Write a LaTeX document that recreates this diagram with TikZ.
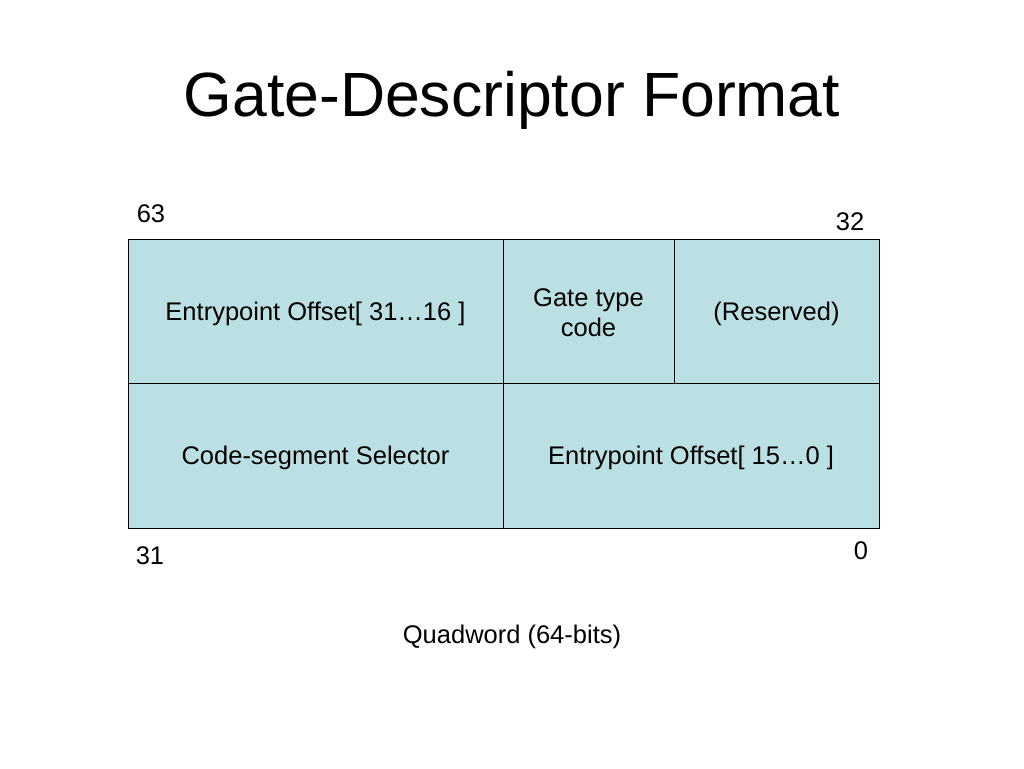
\documentclass[tikz,border=0pt]{standalone}
\usepackage{fontspec}
\setmainfont{Liberation Sans}
\newlength{\du}
\setlength{\du}{1pt}
\tikzset{celltext/.style={font=\fontsize{25.5}{30}\selectfont}}
\begin{document}
\begin{tikzpicture}
\pgftransformxscale{1.000000}
\pgftransformyscale{-1.000000}
\useasboundingbox (0\du,0\du) rectangle (1024\du,768\du);
\definecolor{dialinecolor}{rgb}{0.733000, 0.878000, 0.890000}
\pgfsetfillcolor{dialinecolor}
\definecolor{dialinecolor}{rgb}{0.000000, 0.000000, 0.000000}
\pgfsetstrokecolor{dialinecolor}
\pgfsetlinewidth{1.000000\du}
\pgfsetdash{}{0pt}
% title
\node[font=\fontsize{62.5}{70}\selectfont] (title) at (512.000000\du,100.000000\du){Gate-Descriptor Format};
% upper doubleword
\filldraw (128.000000\du,239.000000\du)--(128.000000\du,383.000000\du)--(503.000000\du,383.000000\du)--(503.000000\du,239.000000\du)--cycle;
\node[celltext] (offhigh) at (315.500000\du,313.500000\du){Entrypoint Offset[ 31…16 ]};
\filldraw (503.000000\du,239.000000\du)--(503.000000\du,383.000000\du)--(674.000000\du,383.000000\du)--(674.000000\du,239.000000\du)--cycle;
\node[celltext,align=center] (gatetype) at (588.500000\du,312.500000\du){Gate type\\code};
\filldraw (674.000000\du,239.000000\du)--(674.000000\du,383.000000\du)--(879.000000\du,383.000000\du)--(879.000000\du,239.000000\du)--cycle;
\node[celltext] (reserved) at (776.500000\du,313.500000\du){(Reserved)};
% lower doubleword
\filldraw (128.000000\du,383.000000\du)--(128.000000\du,528.000000\du)--(503.000000\du,528.000000\du)--(503.000000\du,383.000000\du)--cycle;
\node[celltext] (selector) at (315.500000\du,457.500000\du){Code-segment Selector};
\filldraw (503.000000\du,383.000000\du)--(503.000000\du,528.000000\du)--(879.000000\du,528.000000\du)--(879.000000\du,383.000000\du)--cycle;
\node[celltext] (offlow) at (691.000000\du,457.500000\du){Entrypoint Offset[ 15…0 ]};
% bit numbers
\node[celltext] (bitsixtythree) at (151.000000\du,214.000000\du){63};
\node[celltext] (bitthirtytwo) at (850.000000\du,222.000000\du){32};
\node[celltext] (bitthirtyone) at (150.000000\du,556.000000\du){31};
\node[celltext] (bitzero) at (861.000000\du,551.000000\du){0};
\node[celltext] (quadword) at (512.000000\du,636.500000\du){Quadword (64-bits)};
\end{tikzpicture}
\end{document}
